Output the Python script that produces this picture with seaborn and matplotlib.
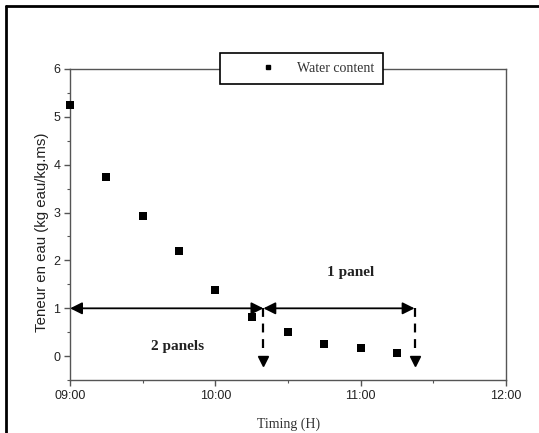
import matplotlib
matplotlib.use("Agg")
import matplotlib.pyplot as plt
from matplotlib.lines import Line2D
from matplotlib.ticker import MultipleLocator
import seaborn as sns
import pandas as pd

# Data
hours = [9.0, 9.25, 9.5, 9.75, 10.0, 10.25, 10.5, 10.75, 11.0, 11.25]
water = [5.25, 3.75, 2.93, 2.19, 1.38, 0.81, 0.50, 0.25, 0.18, 0.06]
x_ticks = [9, 10, 11, 12]
x_tick_labels = ["09:00", "10:00", "11:00", "12:00"]
y_ticks = [0, 1, 2, 3, 4, 5, 6]
split_hour = 10.33
end_hour = 11.37
arrow_level = 1.0

sns.set_theme(style="white")
plt.rcParams['font.family'] = ['Liberation Sans', 'DejaVu Sans']

df = pd.DataFrame({"Timing": hours, "Water content": water})

fig = plt.figure(figsize=(5.39, 4.33), dpi=100)
ax = fig.add_axes([0.130, 0.122, 0.809, 0.719])

sns.scatterplot(data=df, x="Timing", y="Water content", marker="s", s=26,
                color="black", linewidth=0, ax=ax, label="Water content",
                legend=False, zorder=3, clip_on=False)

ax.set_xlim(9, 12)
ax.set_ylim(-0.5, 6)
ax.set_xticks(x_ticks)
ax.set_xticklabels(x_tick_labels)
ax.set_yticks(y_ticks)
ax.xaxis.set_minor_locator(MultipleLocator(0.5))
ax.yaxis.set_minor_locator(MultipleLocator(0.5))
ax.tick_params(axis="both", which="major", direction="out", length=4, width=1,
               color="#555555", labelsize=9, labelcolor="#222222", pad=3,
               bottom=True, left=True)
ax.tick_params(axis="both", which="minor", direction="out", length=2.5, width=0.8,
               color="#555555", bottom=True, left=True)
for sp in ax.spines.values():
    sp.set_color("#555555")
    sp.set_linewidth(1.0)

ax.set_xlabel("Timing (H)", family="Liberation Serif", fontsize=10, color="#333333", labelpad=11)
ax.set_ylabel("Teneur en eau (kg eau/kg.ms)", fontsize=10.8, color="#222222", labelpad=3)
ax.yaxis.label.set_y(0.476)

# Horizontal double arrows
arrowprops = dict(arrowstyle="<|-|>,head_length=0.6,head_width=0.3", color="black",
                  lw=1.3, shrinkA=0, shrinkB=0)
ax.annotate("", xy=(hours[0], arrow_level), xytext=(split_hour, arrow_level), arrowprops=arrowprops)
ax.annotate("", xy=(split_hour, arrow_level), xytext=(end_hour, arrow_level), arrowprops=arrowprops)

# Dashed verticals with downward triangles
for xv in (split_hour, end_hour):
    ax.plot([xv, xv], [arrow_level, 0.12], color="black", lw=1.6, ls=(0, (4, 3)))
    ax.plot([xv], [-0.1], marker="v", color="black", markersize=7.5, linestyle="none")

ax.text(9.74, 0.2, "2 panels", family="Liberation Serif", fontweight="bold",
        fontsize=11, ha="center", va="center", color="#222222")
ax.text(10.93, 1.75, "1 panel", family="Liberation Serif", fontweight="bold",
        fontsize=11, ha="center", va="center", color="#222222")

# Legend on the top spine
handle = Line2D([], [], marker="s", color="black", linestyle="none", markersize=3.5)
leg = ax.legend([handle], ["Water content"], loc="center", bbox_to_anchor=(0.531, 1.0),
                frameon=True, fancybox=False, borderpad=0.65, handlelength=5.6,
                handletextpad=-0.7, prop={"family": "Liberation Serif", "size": 10})
leg.get_frame().set_edgecolor("black")
leg.get_frame().set_linewidth(1.2)
leg.get_frame().set_facecolor("white")
leg.get_frame().set_alpha(1)
for t in leg.get_texts():
    t.set_color("#333333")

# Figure border (left and top)
fig.add_artist(Line2D([0.011, 0.011], [0, 0.986], transform=fig.transFigure, color="black", lw=2))
fig.add_artist(Line2D([0.011, 1], [0.986, 0.986], transform=fig.transFigure, color="black", lw=2))

fig.savefig("out.png", dpi=100)
